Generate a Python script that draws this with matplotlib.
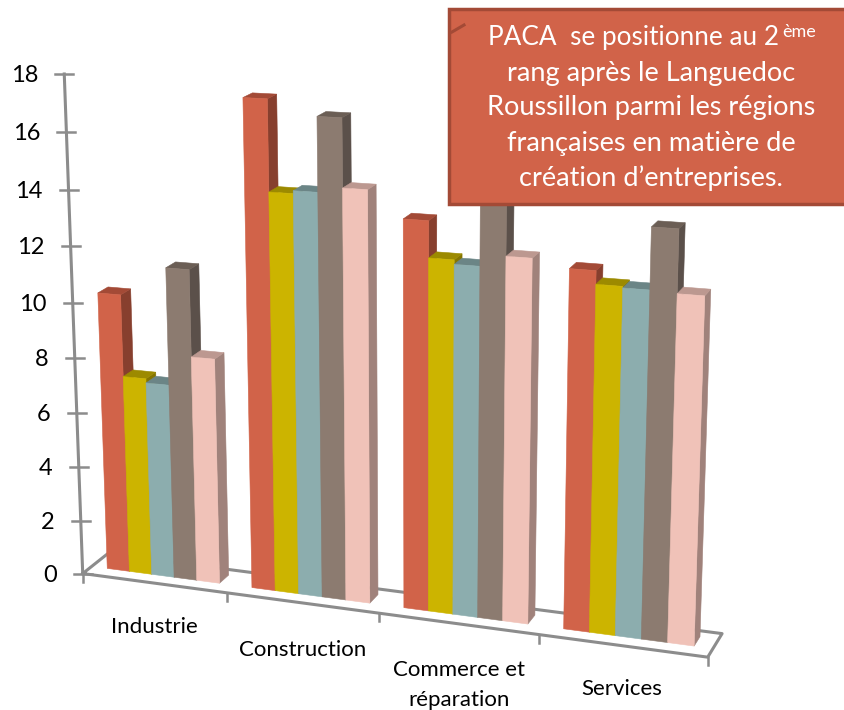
import matplotlib
matplotlib.use('Agg')
import matplotlib.pyplot as plt
import numpy as np

plt.rcParams['font.family'] = ['Lato', 'DejaVu Sans']

# donnees
categories = ['Industrie', 'Construction', 'Commerce et\nréparation', 'Services']
serie1 = [10.2, 17.35, 13.6, 12.35]
serie2 = [7.25, 14.2, 12.35, 11.9]
serie3 = [7.1, 14.3, 12.2, 11.85]
serie4 = [11.3, 16.85, 14.7, 13.9]
serie5 = [8.2, 14.5, 12.6, 11.8]
y_ticks = [0, 2, 4, 6, 8, 10, 12, 14, 16, 18]

colors = ['#D16349', '#CCB400', '#8CADAE', '#8C7B70', '#F0C2B8']
top_colors = ['#A34A36', '#9C8A00', '#6B8586', '#6B5E55', '#BC9890']
side_colors = ['#873F2E', '#857500', '#5F7677', '#5B504A', '#A0827B']

# calage de la perspective: (x categorie, valeur, profondeur) -> pixel
calib_3d = [(0.11, 0, 0), (0.89, 0, 0), (0.89, 0, 1), (1.11, 0, 0), (3.11, 0, 0), (3.89, 0, 0), (3.89, 0, 1),
            (0, 0, -0.9), (0, 8, -0.9), (0, 18, -0.9), (1, 0, -0.9), (3, 0, -0.9), (4, 0, -0.9), (4, 18, -0.9),
            (0.11, 10.2, 0), (0.11, 10.2, 1), (3.89, 11.8, 0), (3.89, 11.8, 1), (1.11, 17.35, 0)]
calib_px = [(107, 568), (218, 583), (229, 575), (252, 587), (564, 628), (694, 646), (700, 637),
            (83, 572), (75, 358), (64, 74), (228, 595), (540, 637), (707, 656), (725, 107),
            (98, 293), (108, 288), (705, 294), (711, 290), (243, 97)]


def fit_camera(pts, pix):
    rows = []
    for (X, Y, Z), (u, v) in zip(pts, pix):
        rows.append([X, Y, Z, 1, 0, 0, 0, 0, -u*X, -u*Y, -u*Z, -u])
        rows.append([0, 0, 0, 0, X, Y, Z, 1, -v*X, -v*Y, -v*Z, -v])
    _, _, vt = np.linalg.svd(np.array(rows, dtype=float))
    return vt[-1].reshape(3, 4)


cam = fit_camera(calib_3d, calib_px)


def proj(X, Y, Z):
    p = cam @ np.array([X, Y, Z, 1.0])
    return p[0]/p[2], p[1]/p[2]


def face(ax, corners, color, z):
    xy = [proj(*c) for c in corners]
    ax.fill([p[0] for p in xy], [p[1] for p in xy], facecolor=color, edgecolor=color, lw=0.4, zorder=z)


fig = plt.figure(figsize=(8.45, 7.1), dpi=100)
ax = fig.add_axes([0, 0, 1, 1])
ax.set_xlim(0, 845)
ax.set_ylim(710, 0)
ax.axis('off')

axis_col = '#8C8C8C'
z_front, z_back = -0.9, 1.6

# sol
floor = [(0, 0, z_front), (4, 0, z_front), (4, 0, z_back), (0, 0, z_back), (0, 0, z_front)]
xy = [proj(*c) for c in floor]
ax.plot([p[0] for p in xy], [p[1] for p in xy], color=axis_col, lw=2.2, zorder=1)
for i in range(len(categories) + 1):
    u, v = proj(i, 0, z_front)
    ax.plot([u, u], [v, v + 8], color=axis_col, lw=1.8, zorder=1)

# axe des valeurs
xy = [proj(0, y, z_front) for y in (y_ticks[0], y_ticks[-1])]
ax.plot([p[0] for p in xy], [p[1] for p in xy], color=axis_col, lw=2.2, zorder=1)
for t in y_ticks:
    u, v = proj(0, t, z_front)
    ax.plot([u - 9, u + 9], [v, v], color=axis_col, lw=1.8, zorder=1)
    ax.text(u - 26, v + 1.5, str(t), ha='right', va='center', fontsize=17, color='black')

# barres
series = [serie1, serie2, serie3, serie4, serie5]
bar_w = 0.156
for i in range(len(categories)):
    for s, values in enumerate(series):
        x0 = i + 0.11 + s*bar_w
        x1 = x0 + bar_w
        h = values[i]
        z = 2 + i*10 + s*3
        face(ax, [(x1, 0, 0), (x1, 0, 1), (x1, h, 1), (x1, h, 0)], side_colors[s], z)
        face(ax, [(x0, h, 0), (x1, h, 0), (x1, h, 1), (x0, h, 1)], top_colors[s], z + 1)
        face(ax, [(x0, 0, 0), (x1, 0, 0), (x1, h, 0), (x0, h, 0)], colors[s], z + 2)

# etiquettes des categories
label_pos = [(154, 627), (303, 650), (459, 685), (622, 689)]
for name, (u, v) in zip(categories, label_pos):
    ax.text(u, v, name, ha='center', va='center', fontsize=16, color='black', linespacing=1.6)

# encadre
ax.add_patch(plt.Rectangle((449, 9), 420, 194.5, facecolor='#D16349', edgecolor='#A34A36', lw=2.5, zorder=100))
ax.plot([452, 464], [32, 25], color='#A34A36', lw=2.2, zorder=101)
box_lines = ['PACA  se positionne au 2', 'rang après le Languedoc', 'Roussillon parmi les régions',
             'françaises en matière de', 'création d’entreprises.']
box_y = [37, 73, 108, 143, 178]
for line, v in zip(box_lines, box_y):
    if line.endswith(' 2'):
        ax.text(488, v, line, ha='left', va='center', fontsize=18.8, color='white', zorder=102)
        ax.text(782, v - 5, 'ème', ha='left', va='center', fontsize=13, color='white', zorder=102)
    else:
        ax.text(651, v, line, ha='center', va='center', fontsize=19.5, color='white', zorder=102)

plt.savefig('out.png', dpi=100)
plt.close()
